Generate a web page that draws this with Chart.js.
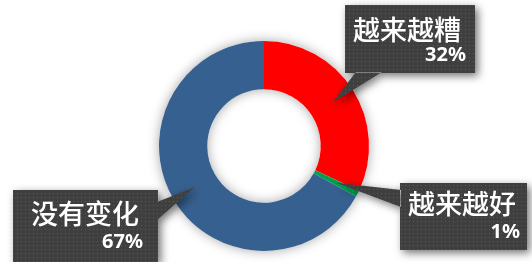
<!DOCTYPE html>
<html>
<head>
<meta charset="utf-8">
<script src="https://cdn.jsdelivr.net/npm/chart.js@4"></script>
<style>
  html, body { margin: 0; padding: 0; background: #fff; }
  #wrap { width: 532px; height: 262px; }
</style>
</head>
<body>
<div id="wrap"><canvas id="chart" width="532" height="262"></canvas></div>
<script>
// данные
const labels = ['越来越糟', '越来越好', '没有变化'];
const values = [32, 1, 67];
const colors = ['#FF0000', '#00A050', '#36608F'];

// выноски: прямоугольник, основание треугольника, позиции текста
const callouts = [
    { x: 345, y: 5, w: 130, h: 68, base: [[356, 72], [382, 72]], nameX: 353, nameY: 30, pctX: 466, pctY: 55 },
    { x: 400, y: 183, w: 127, h: 67, base: [[401, 190], [401, 207]], nameX: 408, nameY: 204, pctX: 520, pctY: 232 },
    { x: 13, y: 190, w: 145, h: 72, base: [[157, 202], [157, 220]], nameX: 31, nameY: 214, pctX: 143, pctY: 242 }
];

// узор фона выносок (точки)
function makePattern(ctx) {
    const c = document.createElement('canvas');
    c.width = 4; c.height = 4;
    const p = c.getContext('2d');
    p.fillStyle = '#3f3f3f';
    p.fillRect(0, 0, 4, 4);
    p.fillStyle = '#5a5a5a';
    p.fillRect(1, 1, 1, 1);
    return ctx.createPattern(c, 'repeat');
}

const ringShadow = {
    id: 'ringShadow',
    beforeDatasetsDraw(chart) {
        const arc = chart.getDatasetMeta(0).data[0];
        if (!arc) return;
        const ctx = chart.ctx;
        ctx.save();
        ctx.shadowColor = 'rgba(0,0,0,0.35)';
        ctx.shadowBlur = 12;
        ctx.fillStyle = '#fff';
        ctx.beginPath();
        ctx.arc(arc.x, arc.y, arc.outerRadius, 0, Math.PI * 2);
        ctx.arc(arc.x, arc.y, arc.innerRadius, 0, Math.PI * 2, true);
        ctx.fill();
        ctx.restore();
    }
};

const calloutPlugin = {
    id: 'callouts',
    afterDatasetsDraw(chart) {
        const ctx = chart.ctx;
        const arcs = chart.getDatasetMeta(0).data;
        const pattern = makePattern(ctx);
        callouts.forEach((c, i) => {
            const tip = arcs[i].tooltipPosition();
            ctx.save();
            ctx.beginPath();
            ctx.rect(c.x, c.y, c.w, c.h);
            ctx.moveTo(c.base[0][0], c.base[0][1]);
            ctx.lineTo(tip.x, tip.y);
            ctx.lineTo(c.base[1][0], c.base[1][1]);
            ctx.closePath();
            ctx.shadowColor = 'rgba(0,0,0,0.55)';
            ctx.shadowBlur = 8;
            ctx.shadowOffsetX = 3;
            ctx.shadowOffsetY = 3;
            ctx.fillStyle = pattern;
            ctx.fill('nonzero');
            ctx.restore();

            ctx.save();
            ctx.fillStyle = '#fff';
            ctx.textBaseline = 'middle';
            ctx.textAlign = 'left';
            ctx.font = '500 27px "Noto Sans CJK SC"';
            ctx.fillText(labels[i], c.nameX, c.nameY);
            ctx.textAlign = 'right';
            ctx.font = 'bold 20px "Noto Sans", "Noto Sans CJK SC"';
            ctx.fillText(values[i] + '%', c.pctX, c.pctY);
            ctx.restore();
        });
    }
};

new Chart(document.getElementById('chart'), {
    type: 'doughnut',
    data: {
        labels: labels,
        datasets: [{
            data: values,
            backgroundColor: colors,
            borderWidth: 0
        }]
    },
    options: {
        responsive: false,
        animation: false,
        cutout: '54%',
        layout: { padding: { top: 41, bottom: 11, left: 0, right: 4 } },
        plugins: {
            legend: { display: false },
            tooltip: { enabled: false }
        }
    },
    plugins: [ringShadow, calloutPlugin]
});
</script>
</body>
</html>
